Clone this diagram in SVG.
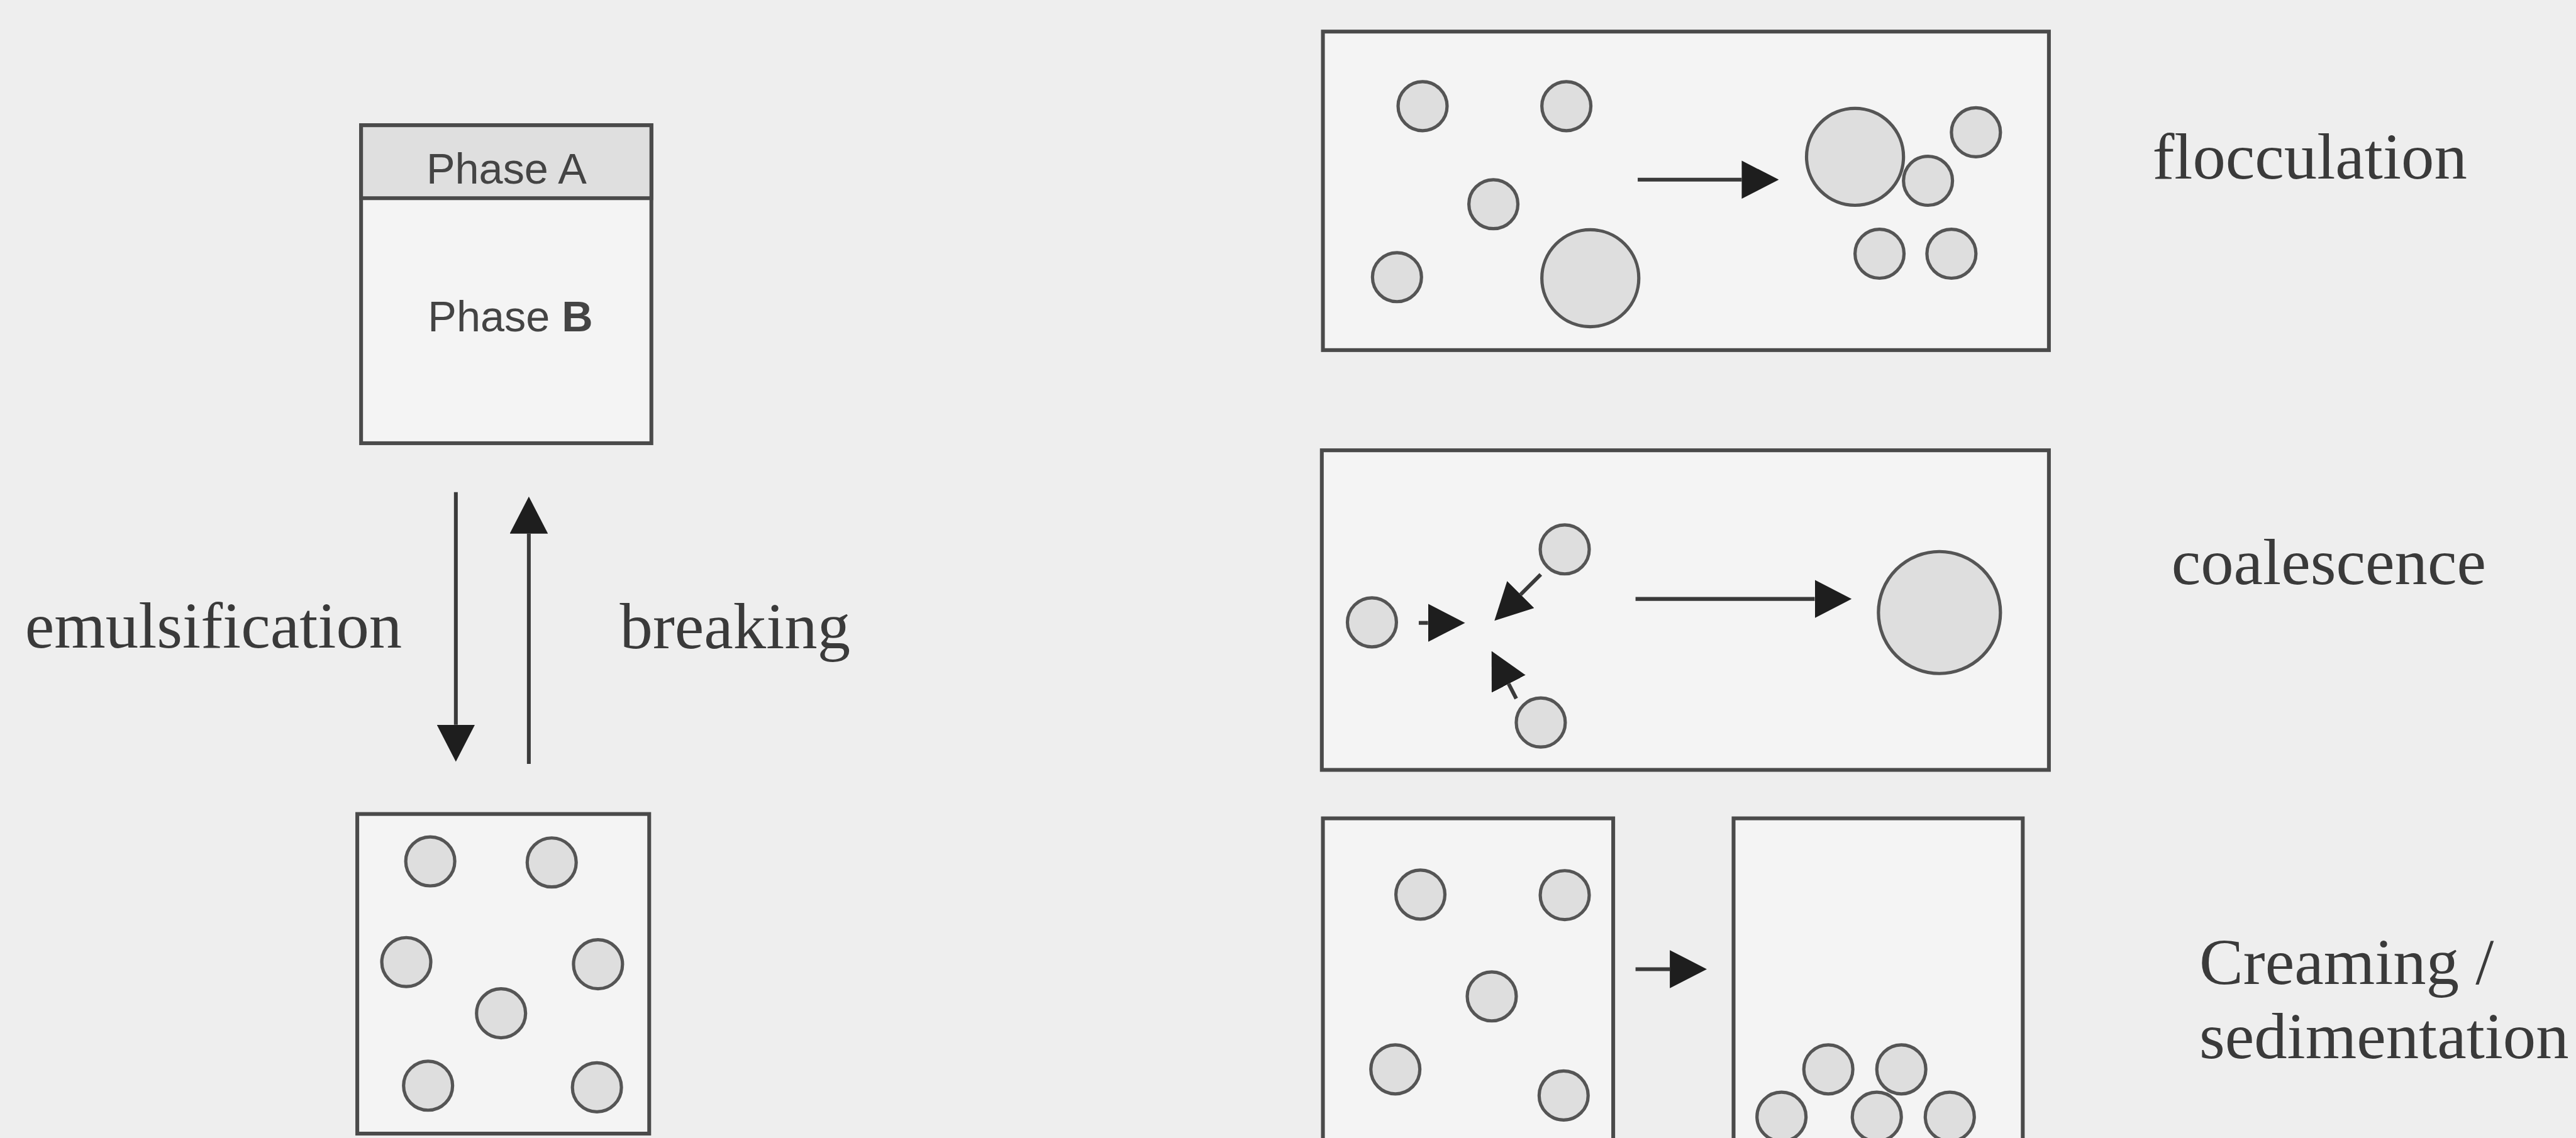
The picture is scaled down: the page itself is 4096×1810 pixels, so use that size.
<svg xmlns="http://www.w3.org/2000/svg" width="4096" height="1810" viewBox="0 0 4096 1810">
<defs>
<style>
.box{fill:#f4f4f4;stroke:#4a4a4a;stroke-width:7}
.band{fill:#dfdfdf;stroke:#4a4a4a;stroke-width:7}
.drop{fill:#dedede;stroke:#555555;stroke-width:6}
.sans{font-family:"Liberation Sans",Arial,sans-serif;font-size:79px;fill:#444444;text-anchor:middle}
.serif{font-family:"Liberation Serif","Times New Roman",serif;font-size:121px;fill:#3a3a3a}
.conn{stroke:#3a3a3a;stroke-width:7;fill:none;marker-end:url(#ah)}
</style>
<marker id="ah" markerUnits="userSpaceOnUse" markerWidth="68" markerHeight="70" viewBox="0 0 68 70" refX="0" refY="35" orient="auto">
<path d="M0,0 L68,35 L0,70 Z" fill="#1e1e1e"/>
</marker>
</defs>
<rect width="4096" height="1810" fill="#eeeeee"/>
<g transform="scale(0.866)">
<g id="phases">
<rect class="box" x="663" y="230" width="533" height="584"/>
<rect class="band" x="663" y="230" width="533" height="134"/>
<text class="sans" x="930" y="337">Phase A</text>
<text class="sans" x="937" y="609">Phase <tspan font-weight="bold">B</tspan></text>
</g>
<g id="emulsion">
<rect class="box" x="656" y="1495" width="536" height="587"/>
<circle class="drop" cx="790" cy="1582" r="45"/>
<circle class="drop" cx="1013" cy="1584" r="45"/>
<circle class="drop" cx="746" cy="1767" r="45"/>
<circle class="drop" cx="1098" cy="1771" r="45"/>
<circle class="drop" cx="920" cy="1861" r="45"/>
<circle class="drop" cx="786" cy="1994" r="45"/>
<circle class="drop" cx="1096" cy="1997" r="45"/>
</g>
<g id="flocculation">
<rect class="box" x="2429" y="58" width="1333" height="585"/>
<circle class="drop" cx="2612" cy="195" r="45"/>
<circle class="drop" cx="2876" cy="195" r="45"/>
<circle class="drop" cx="2742" cy="375" r="45"/>
<circle class="drop" cx="2565" cy="509" r="45"/>
<circle class="drop" cx="2920" cy="511" r="89"/>
<circle class="drop" cx="3406" cy="288" r="89"/>
<circle class="drop" cx="3628" cy="243" r="45"/>
<circle class="drop" cx="3540" cy="332" r="45"/>
<circle class="drop" cx="3451" cy="466" r="45"/>
<circle class="drop" cx="3583" cy="466" r="45"/>
<text class="serif" x="3952" y="328">flocculation</text>
</g>
<g id="coalescence">
<rect class="box" x="2427" y="827" width="1335" height="587"/>
<circle class="drop" cx="2519" cy="1143" r="45"/>
<circle class="drop" cx="2873" cy="1009" r="45"/>
<circle class="drop" cx="2829" cy="1327" r="45"/>
<circle class="drop" cx="3561" cy="1125" r="112"/>
<text class="serif" x="3987" y="1073">coalescence</text>
</g>
<g id="creaming-before">
<rect class="box" x="2429" y="1503" width="533" height="620"/>
<circle class="drop" cx="2608" cy="1643" r="45"/>
<circle class="drop" cx="2873" cy="1644" r="45"/>
<circle class="drop" cx="2739" cy="1830" r="45"/>
<circle class="drop" cx="2562" cy="1964" r="45"/>
<circle class="drop" cx="2871" cy="2012" r="45"/>
</g>
<g id="creaming-after">
<rect class="box" x="3183" y="1503" width="531" height="620"/>
<circle class="drop" cx="3357" cy="1964" r="45"/>
<circle class="drop" cx="3491" cy="1964" r="45"/>
<circle class="drop" cx="3271" cy="2051" r="45"/>
<circle class="drop" cx="3446" cy="2051" r="45"/>
<circle class="drop" cx="3580" cy="2051" r="45"/>
<text class="serif" x="4038" y="1807">Creaming /</text>
<text class="serif" x="4038" y="1943">sedimentation</text>
</g>
<g id="connectors">
<line class="conn" x1="837" y1="904" x2="837" y2="1331"/>
<line class="conn" x1="971" y1="1403" x2="971" y2="980"/>
<text class="serif" x="46" y="1189">emulsification</text>
<text class="serif" x="1138" y="1191">breaking</text>
<line class="conn" x1="3007" y1="330" x2="3198" y2="330"/>
<line class="conn" x1="3003" y1="1100" x2="3332" y2="1100"/>
<line class="conn" x1="2605" y1="1144" x2="2622" y2="1144"/>
<line class="conn" x1="2829" y1="1055" x2="2792" y2="1092"/>
<line class="conn" x1="2784" y1="1283" x2="2770" y2="1256"/>
<line class="conn" x1="3003" y1="1780" x2="3066" y2="1780"/>
</g>
</g>
</svg>
